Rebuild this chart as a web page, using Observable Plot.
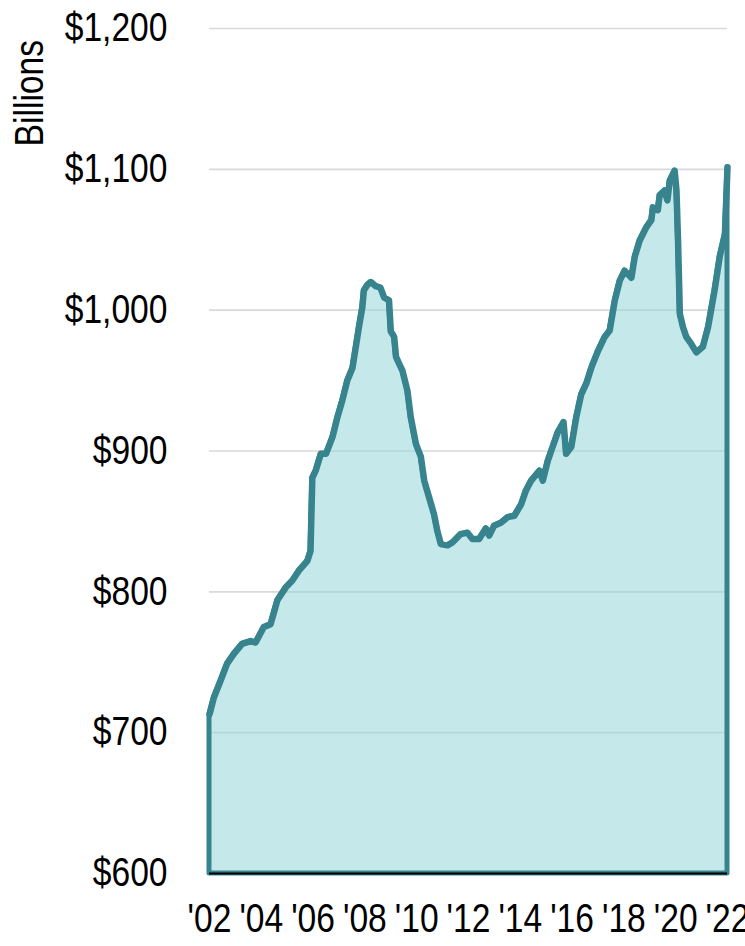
<!DOCTYPE html>
<html>
<head>
<meta charset="utf-8">
<script src="https://cdn.jsdelivr.net/npm/d3@7"></script>
<script src="https://cdn.jsdelivr.net/npm/@observablehq/plot@0.6"></script>
<style>
  html, body { margin: 0; padding: 0; background: #fff; }
  #chart { position: relative; width: 745px; height: 946px; }
</style>
</head>
<body>
<div id="chart"></div>
<script>
const years = [
  2002.0, 2002.17, 2002.43, 2002.68, 2002.94, 2003.26, 2003.59, 2003.78, 2004.1, 2004.36,
  2004.62, 2004.94, 2005.2, 2005.45, 2005.78, 2005.9, 2005.97, 2006.1, 2006.3, 2006.5,
  2006.75, 2006.94, 2007.13, 2007.32, 2007.52, 2007.65, 2007.77, 2007.9, 2007.96, 2008.1,
  2008.23, 2008.42, 2008.6, 2008.74, 2008.93, 2009.0, 2009.13, 2009.2, 2009.32, 2009.45,
  2009.64, 2009.77, 2009.97, 2010.16, 2010.29, 2010.48, 2010.67, 2010.8, 2010.93, 2011.19,
  2011.38, 2011.7, 2011.96, 2012.15, 2012.41, 2012.67, 2012.8, 2012.99, 2013.25, 2013.51,
  2013.77, 2014.03, 2014.22, 2014.42, 2014.74, 2014.87, 2015.06, 2015.25, 2015.44, 2015.67,
  2015.77, 2015.97, 2016.16, 2016.35, 2016.55, 2016.74, 2017.0, 2017.26, 2017.45, 2017.65,
  2017.84, 2018.03, 2018.29, 2018.42, 2018.61, 2018.87, 2019.06, 2019.12, 2019.31, 2019.38,
  2019.57, 2019.68, 2019.77, 2019.96, 2020.03, 2020.09, 2020.16, 2020.28, 2020.41, 2020.6,
  2020.8, 2021.05, 2021.25, 2021.5, 2021.7, 2021.9, 2022.0
];
const values = [
  713, 725, 737, 749, 756, 763, 765, 764, 775, 777,
  794, 803, 808, 815, 822, 829, 881, 886, 898, 898,
  910, 924, 936, 950, 959, 974, 988, 1002, 1014, 1018,
  1020, 1017, 1016, 1009, 1007, 985, 981, 967, 962, 957,
  943, 924, 905, 896, 879, 867, 855, 843, 834, 833,
  835, 841, 842, 837.5, 837.5, 845, 840, 847, 849, 853,
  854, 862, 872, 879, 886, 879, 893, 903, 913, 920.5,
  898, 903, 924, 940, 948, 959, 971, 981, 985.5, 1007,
  1021, 1028, 1023, 1038, 1049.5, 1059, 1064, 1073, 1071, 1081.5,
  1085, 1078, 1092, 1099, 1085, 1049.5, 997.5, 988, 981, 976,
  970, 974, 988, 1014, 1038, 1054, 1101.5
];
const yTicks = [600, 700, 800, 900, 1000, 1100, 1200];
const xTicks = [2002, 2004, 2006, 2008, 2010, 2012, 2014, 2016, 2018, 2020, 2022];
const yLabel = "Billions";

const data = years.map((y, i) => ({year: y, value: values[i]}));
const FONT = "'Liberation Sans Narrow', 'Arial Narrow', 'Liberation Sans', Arial, sans-serif";
const TEAL = "#37848f";

const plot = Plot.plot({
  width: 745,
  height: 946,
  marginLeft: 209,
  marginRight: 18,
  marginTop: 28,
  marginBottom: 73,
  style: {fontFamily: FONT, fontSize: "40px", color: "#000", background: "#fff"},
  x: {domain: [2002, 2022], ticks: xTicks},
  y: {domain: [600, 1200], ticks: yTicks},
  marks: [
    Plot.gridY(yTicks.filter(d => d > 600), {stroke: "#d9d9d9", strokeOpacity: 1, strokeWidth: 1.6}),
    Plot.areaY(data, {x: "year", y1: 600, y2: "value", fill: "#96d5d9", fillOpacity: 0.55,
      stroke: TEAL, strokeWidth: 5, strokeLinejoin: "round"}),
    Plot.line(data, {x: "year", y: "value", stroke: TEAL, strokeWidth: 6.5, strokeLinejoin: "round", strokeLinecap: "round"}),
    Plot.ruleY([600], {stroke: "#000", strokeWidth: 2}),
    Plot.axisY(yTicks, {tickSize: 0, tickPadding: 42, label: null,
      tickFormat: d => "$" + d3.format(",")(d), fontSize: 40}),
    Plot.axisX(xTicks, {tickSize: 0, tickPadding: 30, label: null,
      tickFormat: d => "'" + String(d).slice(2), fontSize: 40})
  ]
});

const svg = d3.select(plot);
svg.append("text")
  .attr("transform", "translate(43,40) rotate(-90)")
  .attr("text-anchor", "end")
  .attr("font-family", FONT)
  .attr("font-size", 40)
  .attr("fill", "#000")
  .text(yLabel);

document.getElementById("chart").appendChild(plot);

// emulate a condensed face (no narrow font installed)
plot.querySelectorAll("text").forEach(t => {
  const w = t.getComputedTextLength();
  if (w > 0) {
    t.setAttribute("textLength", (w * 0.84).toFixed(1));
    t.setAttribute("lengthAdjust", "spacingAndGlyphs");
  }
});
</script>
</body>
</html>
